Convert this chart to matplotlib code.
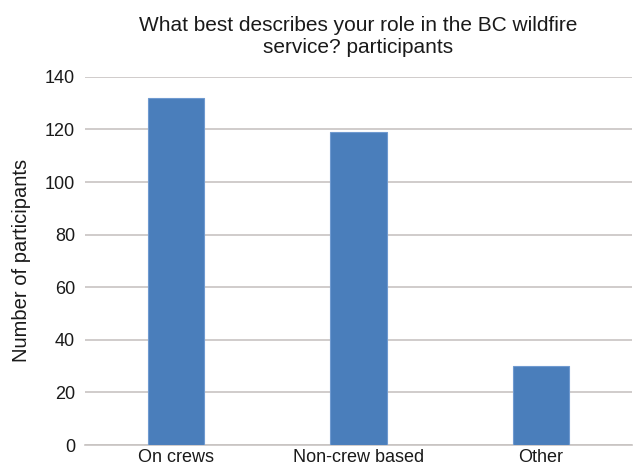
import matplotlib
matplotlib.use('Agg')
import matplotlib.pyplot as plt

categories = ['On crews', 'Non-crew based', 'Other']
participants = [132, 119, 30]
y_ticks = [0, 20, 40, 60, 80, 100, 120, 140]

plt.rcParams['font.family'] = ['Liberation Sans', 'DejaVu Sans']

fig = plt.figure(figsize=(6.34, 4.71), dpi=100)
ax = fig.add_axes([0.134, 0.055, 0.863, 0.782])

ax.bar(categories, participants, width=0.31, color='#4A7EBB',
       edgecolor='#6F9AD0', linewidth=0.8, zorder=3)

ax.set_ylim(0, 140)
ax.set_xlim(-0.5, 2.5)
ax.set_yticks(y_ticks)
ax.yaxis.grid(True, color='#C8C4C2', linewidth=1.2, zorder=0)
ax.tick_params(axis='both', length=0, labelsize=13, colors='#1a1a1a')
ax.tick_params(axis='y', pad=7)
ax.tick_params(axis='x', pad=3)
for side in ['top', 'right', 'left']:
    ax.spines[side].set_visible(False)
ax.spines['bottom'].set_color('#C8C4C2')
ax.spines['bottom'].set_linewidth(1.2)

ax.set_ylabel('Number of participants', fontsize=14.5, color='#1a1a1a', labelpad=10)
ax.set_title('What best describes your role in the BC wildfire\nservice? participants',
             fontsize=15, color='#1a1a1a', pad=17, linespacing=1.2)

fig.savefig('out.png', dpi=100)
